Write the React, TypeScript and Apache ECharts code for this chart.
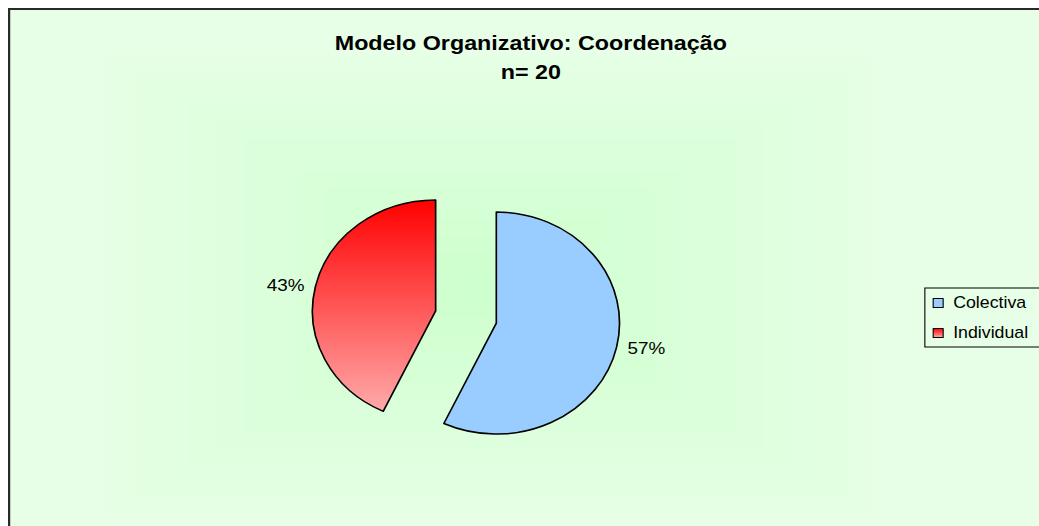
import React, { useEffect, useRef } from "react";
import * as echarts from "echarts";

const categories = ["Colectiva", "Individual"];
const values = [57, 43];
const titleLines = ["Modelo Organizativo: Coordenação", "n= 20"];

const FONT = "'Liberation Sans', Arial, sans-serif";
const SX = 1.11;

export default function App() {
  const ref = useRef<HTMLDivElement>(null);
  useEffect(() => {
    if (!ref.current) return;
    const chart = echarts.init(ref.current, null, { renderer: "svg" });

    // decorative rectangular "from center" gradient of the plot backdrop
    const bands: any[] = [];
    const N = 14;
    const cx = 434, cy = 277, HW = 345, HH = 228;
    for (let i = 0; i < N; i++) {
      const t = 1 - i / N;
      const g = Math.round(228 - 24 * (1 - t));
      bands.push({
        type: "rect",
        z: -10,
        silent: true,
        shape: { x: cx - HW * t, y: cy - HH * t, width: 2 * HW * t, height: 2 * HH * t },
        style: { fill: `rgb(${g},255,${g})` },
      });
    }

    const fills = [
      "#99CCFF",
      new echarts.graphic.LinearGradient(0, 0, 0, 1, [
        { offset: 0, color: "#FF0000" },
        { offset: 1, color: "#FFAAAA" },
      ]),
    ];

    chart.setOption({
      animation: false,
      backgroundColor: "#E6FFE6",
      graphic: [
        ...bands,
        {
          type: "rect",
          z: 100,
          silent: true,
          shape: { x: 1, y: 1, width: 2000, height: 2000 },
          style: { fill: "none", stroke: "#2a2a2a", lineWidth: 2 },
        },
      ],
      title: {
        text: titleLines.join("\n"),
        left: "center",
        top: 15,
        textStyle: {
          fontFamily: FONT,
          fontWeight: "bold",
          fontSize: 21,
          lineHeight: 29,
          color: "#000",
          align: "center",
        },
      },
      legend: {
        data: categories,
        orient: "vertical",
        left: 826,
        top: 280,
        icon: "rect",
        itemWidth: 9,
        itemHeight: 9,
        itemGap: 14,
        padding: [7, 40, 6, 7],
        borderColor: "#000",
        borderWidth: 1,
        selectedMode: false,
        itemStyle: { borderColor: "#000", borderWidth: 1 },
        textStyle: {
          fontFamily: FONT,
          fontSize: 16,
          color: "#000",
          padding: [0, 0, 0, 4],
        },
      },
      series: [
        {
          type: "pie",
          center: [412.6, 309],
          radius: 111,
          startAngle: 90,
          clockwise: true,
          selectedMode: "multiple",
          selectedOffset: 28,
          avoidLabelOverlap: false,
          silent: true,
          emphasis: { disabled: true },
          data: categories.map((name, i) => ({
            name,
            value: values[i],
            selected: true,
            itemStyle: { color: fills[i] },
          })),
          itemStyle: { borderColor: "#000", borderWidth: 1.5 },
          label: {
            show: true,
            position: "outside",
            formatter: "{c}%",
            fontFamily: FONT,
            fontSize: 17,
            color: "#000",
          },
          labelLine: { show: false, length: 5, length2: 0 },
        },
      ],
    });
    return () => chart.dispose();
  }, []);

  return (
    <div
      style={{
        position: "fixed",
        left: 8,
        top: 8,
        width: 1031,
        height: 518,
        overflow: "hidden",
      }}
    >
      <div
        ref={ref}
        style={{
          width: 942,
          height: 530,
          transform: `scaleX(${SX})`,
          transformOrigin: "0 0",
        }}
      />
    </div>
  );
}
